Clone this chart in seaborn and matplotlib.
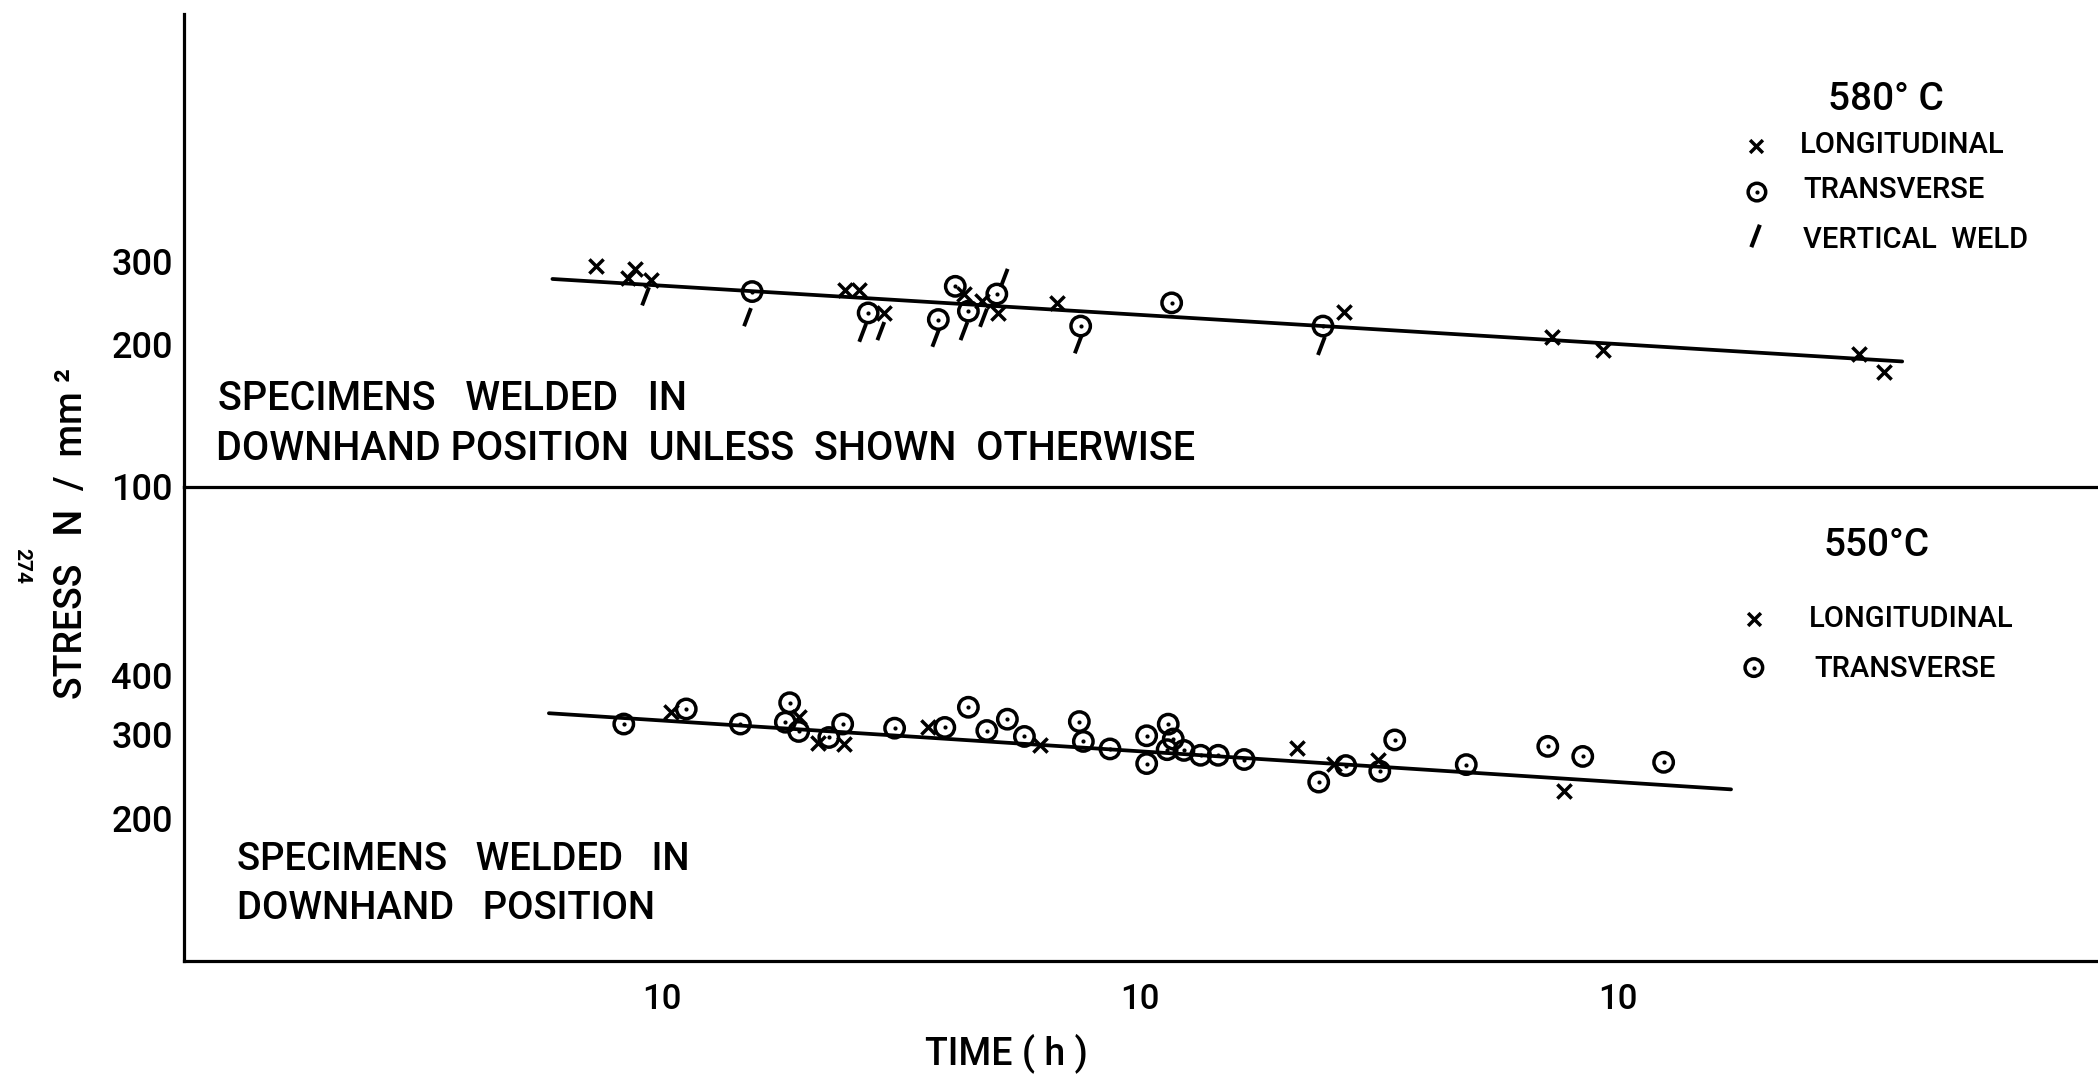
import matplotlib
matplotlib.use("Agg")
import matplotlib.pyplot as plt
from matplotlib import font_manager
from matplotlib.path import Path
from matplotlib.ticker import FixedLocator, FixedFormatter, NullLocator
import seaborn as sns

# ---------------- data: 580 °C ----------------
t580_long = [72.6, 87.7, 85.0, 95.0, 241.8, 257.8, 290.8, 428.5, 467.0, 503.5,
             669.0, 2677.0, 7287.0, 9311.0, 31960.0, 36060.0]
s580_long = [293.0, 289.6, 276.8, 274.5, 261.5, 261.5, 233.4, 255.9, 247.0, 233.4,
             245.1, 234.6, 207.5, 194.5, 191.4, 174.6]

t580_trans = [154.4, 270.0, 378.6, 410.8, 437.6, 501.8, 751.6, 1165.0, 2415.0]
s580_trans = [259.0, 233.4, 226.0, 265.7, 235.4, 255.9, 218.9, 245.1, 218.9]

t580_vert = [92.4, 151.0, 263.0, 287.0, 374.0, 428.4, 470.6, 520.0, 743.0, 2397.0]
s580_vert = [253.0, 228.6, 211.9, 213.6, 206.8, 213.6, 227.9, 276.8, 200.3, 198.7]

t580_fit = [59.0, 39330.0]
s580_fit = [275.4, 184.2]

# ---------------- data: 550 °C ----------------
t550_long = [104.2, 193.2, 212.1, 239.9, 359.8, 618.0, 2136.0, 2548.0, 3141.0, 7730.0]
s550_long = [335.5, 327.5, 288.2, 286.8, 310.8, 285.8, 281.3, 260.4, 266.0, 228.2]

t550_trans = [83.2, 112.4, 145.9, 185.0, 181.2, 193.2, 223.4, 238.8, 306.7, 390.6,
              437.6, 478.2, 528.0, 573.2, 746.8, 761.4, 865.5, 1032.8, 1033.0, 1146.0,
              1174.0, 1140.0, 1236.0, 1339.0, 1458.0, 1652.0, 2366.0, 2695.0, 3175.0,
              3412.0, 4816.0, 7133.0, 8441.0, 12463.0]
s550_trans = [316.0, 340.0, 316.0, 350.4, 318.8, 304.8, 296.0, 316.0, 309.7, 310.8,
              342.8, 306.2, 323.5, 297.5, 319.8, 290.4, 280.0, 298.5, 260.8, 315.8,
              293.8, 279.0, 278.0, 271.5, 271.5, 266.0, 238.4, 258.3, 251.3,
              292.5, 259.5, 283.5, 270.0, 262.4]

t550_fit = [58.0, 17245.0]
s550_fit = [333.0, 230.1]

# ---------------- axis ticks ----------------
stress_ticks_580 = [100, 200, 300, 1000]
stress_labels_580 = ["100", "200", "300", ""]
stress_ticks_550 = [200, 300, 400]
stress_labels_550 = ["200", "300", "400"]
time_ticks = [1e2, 1e3, 1e4, 1e5]
time_labels = ["10", "10", "10", ""]

# ---------------- styling ----------------
sns.set_theme(style="white")
available = {f.name for f in font_manager.fontManager.ttflist}
main_font = "Roboto" if "Roboto" in available else "DejaVu Sans"
plt.rcParams["font.family"] = [main_font, "DejaVu Sans"]
plt.rcParams["font.weight"] = "medium"
plt.rcParams["axes.linewidth"] = 2.3

INK = "black"
LW = 2.5

slash = Path([(-0.38, -1.0), (0.38, 1.0)], [Path.MOVETO, Path.LINETO])

fig = plt.figure(figsize=(20.98, 10.74), dpi=100)
ax_bot = fig.add_axes([0.0877, 0.1052, 0.9113, 0.4416])
ax_top = fig.add_axes([0.0877, 0.5468, 0.9113, 0.4397])

for ax in (ax_top, ax_bot):
    ax.set_xscale("log")
    ax.set_yscale("log")
    ax.set_xlim(10, 1e5)
    ax.set_ylim(100, 1000)
    ax.set_facecolor("none")
    for side in ("top", "right"):
        ax.spines[side].set_visible(False)
    for side in ("left", "bottom"):
        ax.spines[side].set_color(INK)
        ax.spines[side].set_linewidth(2.3)


def cross(ax, t, s, size=105):
    sns.scatterplot(x=t, y=s, marker="x", s=size, color=INK, linewidth=LW, ax=ax,
                    zorder=4, legend=False)


def ring(ax, t, s, size=195):
    sns.scatterplot(x=t, y=s, marker="o", s=size, facecolor="none", edgecolor=INK,
                    linewidth=LW, ax=ax, zorder=4, legend=False)
    sns.scatterplot(x=t, y=s, marker="o", s=9, color=INK, edgecolor=INK,
                    linewidth=0, ax=ax, zorder=5, legend=False)


def weld(ax, t, s, size=170):
    sns.scatterplot(x=t, y=s, marker=slash, s=size, facecolor="none", edgecolor=INK,
                    linewidth=2.8, ax=ax, zorder=4, legend=False)


# 580 °C panel
sns.lineplot(x=t580_fit, y=s580_fit, color=INK, linewidth=2.7, ax=ax_top, zorder=3)
cross(ax_top, t580_long, s580_long)
ring(ax_top, t580_trans, s580_trans)
weld(ax_top, t580_vert, s580_vert)

# 550 °C panel
sns.lineplot(x=t550_fit, y=s550_fit, color=INK, linewidth=2.7, ax=ax_bot, zorder=3)
cross(ax_bot, t550_long, s550_long)
ring(ax_bot, t550_trans, s550_trans)

# ticks
tick_kw = dict(direction="in", length=11, width=2.3, colors=INK)
ax_top.yaxis.set_major_locator(FixedLocator(stress_ticks_580))
ax_top.yaxis.set_major_formatter(FixedFormatter(stress_labels_580))
ax_top.xaxis.set_major_locator(FixedLocator([1e5]))
ax_top.xaxis.set_major_formatter(FixedFormatter([""]))
ax_bot.yaxis.set_major_locator(FixedLocator(stress_ticks_550))
ax_bot.yaxis.set_major_formatter(FixedFormatter(stress_labels_550))
ax_bot.xaxis.set_major_locator(FixedLocator(time_ticks))
ax_bot.xaxis.set_major_formatter(FixedFormatter(time_labels))
for ax in (ax_top, ax_bot):
    ax.xaxis.set_minor_locator(NullLocator())
    ax.yaxis.set_minor_locator(NullLocator())
    ax.tick_params(axis="y", pad=8, labelsize=26, **tick_kw)
    ax.tick_params(axis="x", pad=16, labelsize=25, **tick_kw)
    ax.set_xlabel("")
    ax.set_ylabel("")
    ax.grid(False)


# keys drawn inside each panel
def key_cross(ax, x, y):
    ax.scatter([x], [y], marker="x", s=85, color=INK, linewidth=LW,
               transform=ax.transAxes, clip_on=False, zorder=6)


def key_ring(ax, x, y):
    ax.scatter([x], [y], marker="o", s=160, facecolor="none", edgecolor=INK,
               linewidth=LW, transform=ax.transAxes, clip_on=False, zorder=6)
    ax.scatter([x], [y], marker="o", s=9, color=INK, linewidth=0,
               transform=ax.transAxes, clip_on=False, zorder=6)


def key_weld(ax, x, y):
    ax.scatter([x], [y], marker=slash, s=260, facecolor="none", edgecolor=INK,
               linewidth=3.0, transform=ax.transAxes, clip_on=False, zorder=6)


key_fs = 21
title_fs = 28
ax_top.text(0.890, 0.798, "580° C", transform=ax_top.transAxes, fontsize=title_fs,
            ha="center", va="baseline", color=INK)
key_cross(ax_top, 0.822, 0.7216)
ax_top.text(0.845, 0.7068, "LONGITUDINAL", transform=ax_top.transAxes,
            fontsize=key_fs, ha="left", va="baseline", color=INK)
key_ring(ax_top, 0.8227, 0.624)
ax_top.text(0.8468, 0.6104, "TRANSVERSE", transform=ax_top.transAxes,
            fontsize=key_fs, ha="left", va="baseline", color=INK)
key_weld(ax_top, 0.822, 0.531)
ax_top.text(0.8468, 0.5066, "VERTICAL  WELD", transform=ax_top.transAxes,
            fontsize=key_fs, ha="left", va="baseline", color=INK)

ax_bot.text(0.8855, 0.854, "550°C", transform=ax_bot.transAxes, fontsize=title_fs,
            ha="center", va="baseline", color=INK)
key_cross(ax_bot, 0.8211, 0.7202)
ax_bot.text(0.850, 0.7043, "LONGITUDINAL", transform=ax_bot.transAxes,
            fontsize=key_fs, ha="left", va="baseline", color=INK)
key_ring(ax_bot, 0.8211, 0.6187)
ax_bot.text(0.8525, 0.599, "TRANSVERSE", transform=ax_bot.transAxes,
            fontsize=key_fs, ha="left", va="baseline", color=INK)

# panel notes
fig.text(0.1039, 0.6184, "SPECIMENS   WELDED   IN", fontsize=28.5, ha="left",
         va="baseline", color=INK)
fig.text(0.1030, 0.5719, "DOWNHAND POSITION  UNLESS  SHOWN  OTHERWISE",
         fontsize=28.5, ha="left", va="baseline", color=INK)
fig.text(0.1130, 0.1899, "SPECIMENS   WELDED   IN", fontsize=27.5, ha="left",
         va="baseline", color=INK)
fig.text(0.1130, 0.1443, "DOWNHAND   POSITION", fontsize=27.5, ha="left",
         va="baseline", color=INK)

# axis titles
fig.text(0.0343, 0.5033, "STRESS   N  /  mm ²", rotation=90, fontsize=27,
         ha="center", va="center", color=INK)
fig.text(0.4795, 0.0095, "TIME ( h )", fontsize=27, ha="center", va="baseline",
         color=INK)
fig.text(0.0105, 0.473, "274", rotation=270, fontsize=15, fontweight="bold",
         ha="center", va="center", color=INK)

fig.savefig("out.png", dpi=100, facecolor="white")
